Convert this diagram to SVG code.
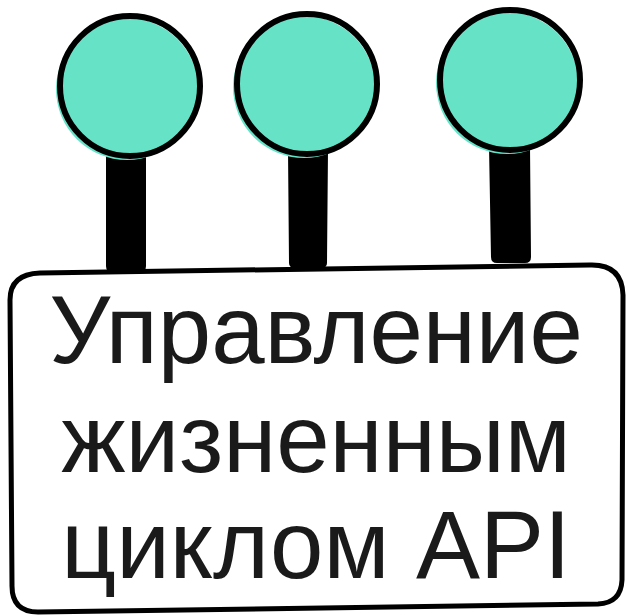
<svg xmlns="http://www.w3.org/2000/svg" width="628" height="616" viewBox="0 0 628 616">
<style>
.stem{fill:#000}
.fill{fill:#66E2C7}
.ring{fill:none;stroke:#000;stroke-width:6}
.box{fill:#fff;stroke:#000;stroke-width:5;stroke-linejoin:round}
.label{font-family:"Liberation Sans",Arial,sans-serif;font-size:96px;fill:#1a1a1a;text-anchor:middle}
</style>
<rect width="628" height="616" fill="#fff"/>
<g id="connectors">
<path class="stem" d="M106,150 L146,150 L146,266 Q146,272 140,272 L112,272 Q106,272 106,266 Z"/>
<path class="stem" d="M288,150 L328,150 L327,263 Q327,268 321,268 L295,268 Q289,268 289,263 Z"/>
<path class="stem" d="M489,146 L530,146 L531,257 Q531,263 525,263 L497,263 Q491,263 491,257 Z"/>
</g>
<g id="node-circle-1">
<circle class="fill" cx="127" cy="89" r="71"/>
<circle class="ring" cx="130" cy="86" r="70"/>
</g>
<g id="node-circle-2">
<circle class="fill" cx="304" cy="87" r="71"/>
<circle class="ring" cx="307" cy="84" r="70"/>
</g>
<g id="node-circle-3">
<circle class="fill" cx="507" cy="83" r="71"/>
<circle class="ring" cx="510" cy="80" r="70"/>
</g>
<g id="node-box">
<path class="box" d="M40,273 L590,265 Q622,264 623,295 L622,580 Q621,603 598,604 L38,612 Q12,612 12,586 L10,300 Q10,274 40,273 Z"/>
<text class="label" x="316" y="363">Управление</text>
<text class="label" x="316" y="472">жизненным</text>
<text class="label" x="316" y="578">циклом API</text>
</g>
</svg>
